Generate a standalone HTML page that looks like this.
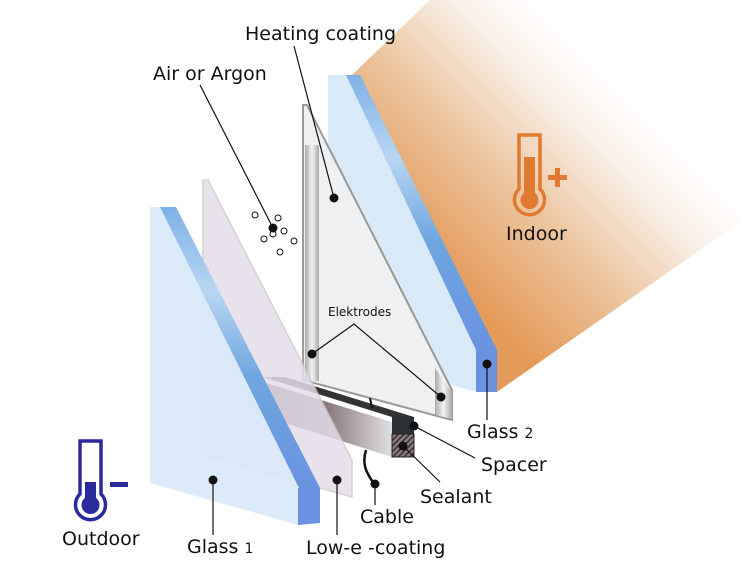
<!DOCTYPE html>
<html><head><meta charset="utf-8"><style>
html,body{margin:0;padding:0;background:#fff;}
svg{display:block;}
text{font-family:"DejaVu Sans","Liberation Sans",sans-serif;fill:#111;}
</style></head><body>
<svg width="750" height="581" viewBox="0 0 750 581" xmlns="http://www.w3.org/2000/svg">
<defs>
<linearGradient id="og" gradientUnits="userSpaceOnUse" x1="470" y1="300" x2="650" y2="120">
<stop offset="0" stop-color="#e49a58"/><stop offset="0.4" stop-color="#ebc29a"/><stop offset="0.8" stop-color="#f9f1ea"/><stop offset="1" stop-color="#ffffff"/></linearGradient>
<linearGradient id="bl" x1="0" y1="0" x2="0" y2="1">
<stop offset="0" stop-color="#7fb0e6"/><stop offset="0.3" stop-color="#b8d6f2"/><stop offset="0.6" stop-color="#6fa6e0"/><stop offset="1" stop-color="#6a92e0"/></linearGradient>
<linearGradient id="el" x1="0" y1="0" x2="1" y2="0">
<stop offset="0" stop-color="#aaa"/><stop offset="0.5" stop-color="#f4f4f4"/><stop offset="1" stop-color="#aaa"/></linearGradient>
<linearGradient id="sp" x1="0" y1="0" x2="1" y2="0">
<stop offset="0" stop-color="#5a4e56"/><stop offset="0.5" stop-color="#8a7a80"/><stop offset="1" stop-color="#e0e0e0"/></linearGradient>
<pattern id="hat" width="4" height="4" patternUnits="userSpaceOnUse" patternTransform="rotate(45)">
<rect width="4" height="4" fill="#8a7a7e"/><rect width="1.5" height="4" fill="#3a3034"/></pattern>
</defs>
<polygon points="352,75 430,0 750,0 750,215 497,392 497,350" fill="url(#og)"/>
<polygon points="328,75 350,75 476,350 476,392 328,350" fill="#d8e9f8"/>
<polygon points="346,75 360,75 497,350 476,350" fill="url(#bl)"/>
<rect x="476" y="350" width="21" height="42" fill="#6a92e0"/>
<polygon points="303,105 307,105 452,390 452,420 303,380" fill="#eef0f2" stroke="#999" stroke-width="2"/>
<rect x="305" y="145" width="14" height="236" fill="url(#el)"/>
<polygon points="435,368 452,392 452,419 435,415" fill="url(#el)"/>
<polygon points="242,377 263,377 263,414 242,410" fill="#9aa" opacity="0.5"/>
<polygon points="263,377 285,377 414,417 392,417" fill="#333"/>
<polygon points="263,382 392,422 392,457 263,416" fill="url(#sp)"/>
<rect x="392" y="417" width="22" height="17" fill="#2a3034"/>
<rect x="392" y="434" width="22" height="23" fill="url(#hat)" stroke="#222"/>
<path d="M370,398 L372,408" stroke="#111" stroke-width="2"/>
<path d="M366,450 C360,470 372,478 376,488" stroke="#111" stroke-width="2.5" fill="none"/>
<polygon points="203,180 208,180 352,460 352,497 203,455" fill="#e3dde8" opacity="0.85" stroke="#ccc" stroke-width="1.5"/>
<polygon points="150,207 168,207 298,485 298,525 150,483" fill="#d8e9f8" opacity="0.9"/>
<polygon points="160,207 176,207 320,488 300,490" fill="url(#bl)"/>
<polygon points="298,488 320,488 320,523 298,525" fill="#6a92e0"/>
<g fill="#fff" stroke="#111" stroke-width="1">
<circle cx="255" cy="215" r="3"/><circle cx="278" cy="218" r="3"/><circle cx="284" cy="231" r="3"/><circle cx="273" cy="234" r="3"/><circle cx="264" cy="239" r="3"/><circle cx="294" cy="241" r="3"/><circle cx="280" cy="252" r="3"/></g>
<g stroke="#111" stroke-width="1.2" fill="none">
<line x1="200" y1="85" x2="273" y2="228"/>
<line x1="294" y1="46" x2="334" y2="198"/>
<polyline points="312,354 354,324 441,397"/>
<line x1="487" y1="364" x2="487" y2="420"/>
<line x1="414" y1="426" x2="475" y2="458"/>
<line x1="403" y1="446" x2="440" y2="482"/>
<line x1="375" y1="484" x2="375" y2="505"/>
<line x1="213" y1="480" x2="213" y2="535"/>
<line x1="337" y1="480" x2="337" y2="535"/>
</g>
<g fill="#111">
<circle cx="273" cy="228" r="4.5"/><circle cx="334" cy="198" r="4.5"/><circle cx="312" cy="354" r="4.5"/><circle cx="441" cy="397" r="4.5"/>
<circle cx="487" cy="364" r="4.5"/><circle cx="414" cy="426" r="4.5"/><circle cx="403" cy="446" r="4.5"/><circle cx="375" cy="484" r="4.5"/>
<circle cx="213" cy="480" r="4.5"/><circle cx="337" cy="480" r="4.5"/></g>
<path d="M519,189 A15,15 0 1 0 540,189 L540,135 L519,135 Z" fill="none" stroke="#e07a30" stroke-width="3.5"/>
<g fill="#e07a30"><rect x="524" y="157" width="11" height="40"/><circle cx="529.5" cy="200" r="9"/>
<rect x="548" y="175" width="19" height="5"/><rect x="555" y="168" width="5" height="19"/></g>
<path d="M80,494 A15,15 0 1 0 101,494 L101,441 L80,441 Z" fill="none" stroke="#2a2a9a" stroke-width="3.5"/>
<g fill="#2a2a9a"><rect x="85" y="482" width="11" height="20"/><circle cx="90.5" cy="505" r="9"/>
<rect x="110" y="482" width="18" height="5"/></g>
<text x="245" y="40" font-size="19">Heating coating</text>
<text x="153" y="80" font-size="19">Air or Argon</text>
<text x="328" y="316" font-size="12">Elektrodes</text>
<text x="506" y="240" font-size="19">Indoor</text>
<text x="467" y="438" font-size="19">Glass <tspan font-size="14">2</tspan></text>
<text x="481" y="471" font-size="19">Spacer</text>
<text x="420" y="503" font-size="19">Sealant</text>
<text x="360" y="523" font-size="19">Cable</text>
<text x="62" y="545" font-size="19">Outdoor</text>
<text x="187" y="553" font-size="19">Glass <tspan font-size="14">1</tspan></text>
<text x="306" y="554" font-size="19">Low-e -coating</text>
</svg>
</body></html>
